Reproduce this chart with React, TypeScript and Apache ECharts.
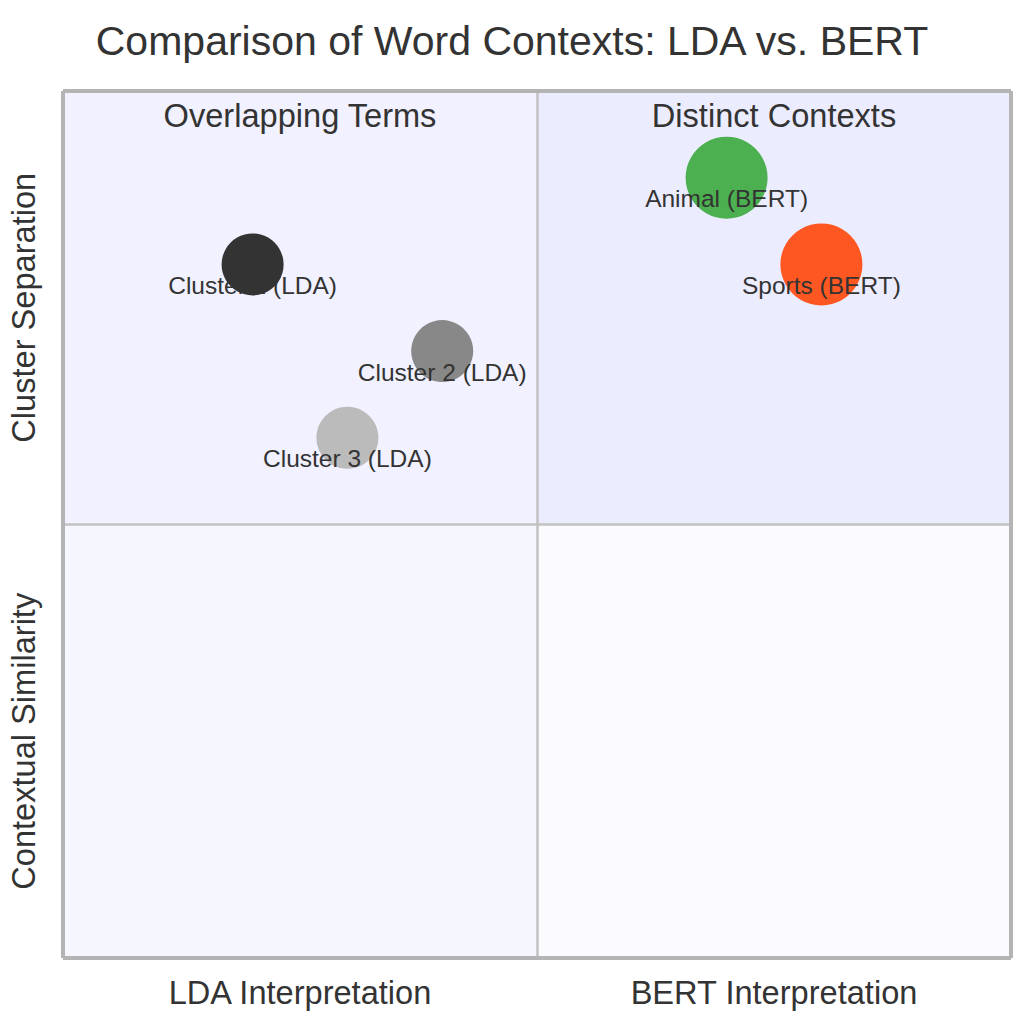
import React, { useEffect, useRef } from "react";
import * as echarts from "echarts";

const chartTitle = "Comparison of Word Contexts: LDA vs. BERT";
const xAxisLabels = ["LDA Interpretation", "BERT Interpretation"];
const yAxisLabels = ["Contextual Similarity", "Cluster Separation"];
// quadrant 1 = top-right, 2 = top-left, 3 = bottom-left, 4 = bottom-right
const quadrantLabels = ["Distinct Contexts", "Overlapping Terms", "", ""];
const quadrantColors = ["#ececff", "#f1f1ff", "#f6f6ff", "#fbfbff"];

const pointNames = ["Cluster 1 (LDA)", "Cluster 2 (LDA)", "Cluster 3 (LDA)", "Animal (BERT)", "Sports (BERT)"];
const pointX = [0.2, 0.4, 0.3, 0.7, 0.8];
const pointY = [0.8, 0.7, 0.6, 0.9, 0.8];
const pointRadius = [31, 31, 31, 41, 41];
const pointColors = ["#333333", "#888888", "#bbbbbb", "#4caf50", "#ff5722"];

const FONT = "'Liberation Sans', Arial, Helvetica, sans-serif";
const TEXT = "#333333";

export default function App() {
  const ref = useRef<HTMLDivElement>(null);

  useEffect(() => {
    if (!ref.current) return;
    const chart = echarts.init(ref.current, undefined, { renderer: "svg" });

    const quadRects = [
      [0.5, 0.5, 1, 1],
      [0, 0.5, 0.5, 1],
      [0, 0, 0.5, 0.5],
      [0.5, 0, 1, 0.5],
    ];

    const markAreaData = quadRects.map((r, i) => [
      {
        name: quadrantLabels[i],
        xAxis: r[0],
        yAxis: r[3],
        itemStyle: { color: quadrantColors[i], opacity: 1 },
      },
      { xAxis: r[2], yAxis: r[1] },
    ]);

    const near = (a: number, b: number) => Math.abs(a - b) < 1e-6;

    const option: any = {
      animation: false,
      backgroundColor: "#ffffff",
      textStyle: { fontFamily: FONT },
      title: {
        text: chartTitle,
        left: "center",
        top: 15,
        textStyle: { fontSize: 41, fontWeight: "normal", color: TEXT, fontFamily: FONT },
      },
      grid: { left: 63, right: 13, top: 91, bottom: 66, containLabel: false },
      xAxis: {
        type: "value",
        min: 0,
        max: 1,
        interval: 0.25,
        axisLine: { show: false },
        axisTick: { show: false },
        splitLine: { show: false },
        axisLabel: {
          margin: 18,
          fontSize: 32.6,
          color: TEXT,
          fontFamily: FONT,
          showMinLabel: true,
          showMaxLabel: true,
          formatter: (v: number) => (near(v, 0.25) ? xAxisLabels[0] : near(v, 0.75) ? xAxisLabels[1] : ""),
        },
      },
      yAxis: {
        type: "value",
        min: 0,
        max: 1,
        interval: 0.25,
        axisLine: { show: false },
        axisTick: { show: false },
        splitLine: { show: false },
        axisLabel: {
          margin: 23,
          rotate: 90,
          fontSize: 32.6,
          color: TEXT,
          fontFamily: FONT,
          formatter: (v: number) => (near(v, 0.25) ? yAxisLabels[0] : near(v, 0.75) ? yAxisLabels[1] : ""),
        },
      },
      series: [
        {
          type: "scatter",
          z: 1,
          data: [],
          silent: true,
          markArea: {
            silent: true,
            label: {
              show: true,
              position: "insideTop",
              distance: 8,
              fontSize: 32.6,
              color: TEXT,
              fontFamily: FONT,
              formatter: "{b}",
            },
            data: markAreaData,
          },
        },
        {
          type: "scatter",
          z: 2,
          data: [],
          silent: true,
          markLine: {
            silent: true,
            symbol: "none",
            label: { show: false },
            data: [
              { xAxis: 0.5, lineStyle: { color: "#c2c2c2", width: 2.5, type: "solid" } },
              { yAxis: 0.5, lineStyle: { color: "#c2c2c2", width: 2.5, type: "solid" } },
              { xAxis: 0, lineStyle: { color: "#b4b4b4", width: 4, type: "solid" } },
              { xAxis: 1, lineStyle: { color: "#b4b4b4", width: 4, type: "solid" } },
              { yAxis: 0, lineStyle: { color: "#b4b4b4", width: 4, type: "solid" } },
              { yAxis: 1, lineStyle: { color: "#b4b4b4", width: 4, type: "solid" } },
            ],
          },
        },
        {
          type: "scatter",
          z: 3,
          data: pointNames.map((name, i) => ({
            name,
            value: [pointX[i], pointY[i]],
            symbolSize: pointRadius[i] * 2,
            itemStyle: { color: pointColors[i], opacity: 1 },
          })),
          label: {
            show: true,
            position: "inside",
            offset: [0, 21],
            formatter: "{b}",
            fontSize: 24.5,
            color: TEXT,
            fontFamily: FONT,
          },
        },
      ],
    };

    chart.setOption(option);
    return () => chart.dispose();
  }, []);

  return (
    <div
      ref={ref}
      style={{ position: "absolute", left: 0, top: 0, width: 1024, height: 1024, background: "#fff" }}
    />
  );
}
